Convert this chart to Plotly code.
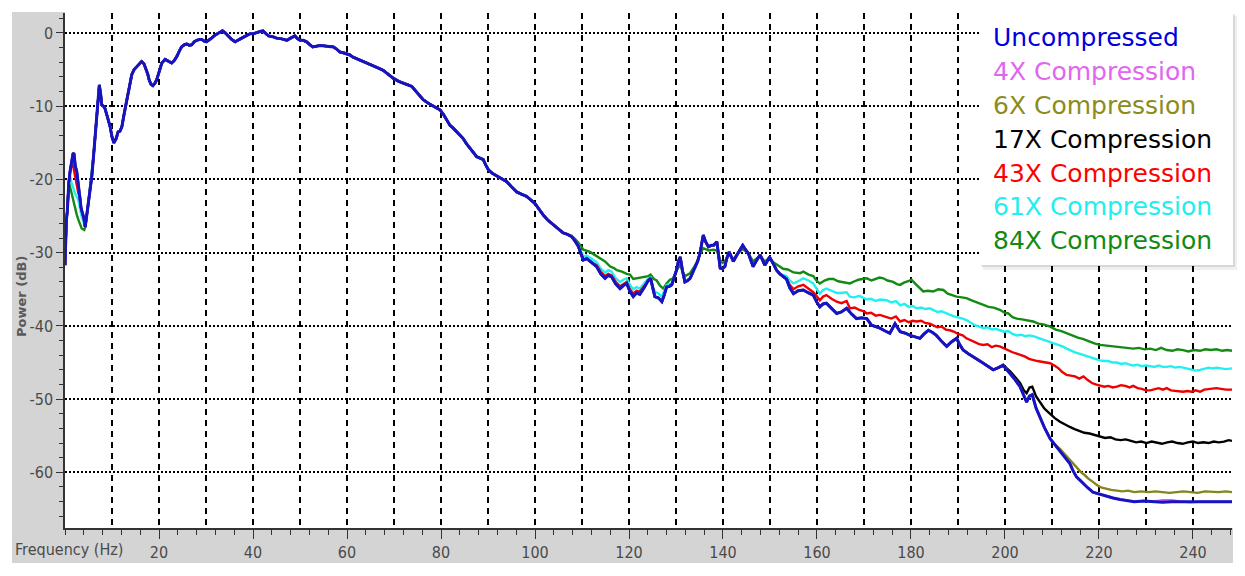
import plotly.graph_objects as go

# ---------------- data ----------------
FREQ = [0.0, 0.15, 0.3, 0.5, 0.8, 1.1, 1.4, 1.7, 1.9, 2.2, 2.5, 2.8, 3.1, 3.4, 3.7, 4.0, 4.3, 4.8, 5.3, 5.7,
        6.1, 6.4, 6.8, 7.1, 7.3, 7.6, 7.8, 8.2, 8.5, 9.0, 9.6, 10.0, 10.4, 10.9, 11.3, 11.7, 12.1, 12.6, 13.1, 13.6,
        14.2, 14.7, 15.3, 15.8, 16.3, 16.8, 17.2, 17.6, 17.9, 18.3, 18.7, 19.1, 19.5, 20.0, 20.6, 21.3, 22.0, 22.7, 23.2, 23.8,
        24.3, 24.8, 25.4, 25.9, 26.5, 27.0, 27.5, 28.0, 28.6, 29.1, 29.6, 30.1, 31.0, 31.9, 32.7, 33.5, 34.1, 34.8, 35.5, 36.2,
        36.9, 37.6, 38.5, 39.4, 40.1, 40.8, 41.5, 42.1, 42.7, 43.3, 44.2, 45.0, 46.1, 47.2, 48.0, 48.9, 49.5, 50.0, 50.7, 51.4,
        52.1, 52.7, 53.5, 54.3, 55.7, 57.1, 57.8, 58.5, 59.2, 59.9, 60.6, 61.3, 62.4, 63.5, 64.6, 65.6, 66.7, 67.7, 68.8, 69.9,
        71.0, 72.0, 73.0, 73.8, 74.8, 75.5, 76.2, 77.3, 78.4, 79.1, 79.8, 80.5, 81.2, 81.9, 82.6, 83.6, 84.7, 85.4, 86.2, 86.9,
        87.6, 88.3, 89.0, 89.5, 90.1, 91.0, 91.8, 92.9, 94.0, 95.0, 96.1, 97.1, 98.2, 99.1, 100.0, 100.9, 101.8, 102.8, 103.9, 105.0,
        106.0, 106.9, 107.8, 108.5, 109.2, 109.8, 110.3, 111.0, 111.7, 112.4, 113.1, 114.0, 114.9, 115.6, 116.3, 117.2, 118.1, 118.8, 119.5, 120.2,
        120.9, 121.6, 122.3, 123.2, 124.1, 124.6, 125.0, 125.5, 126.3, 127.0, 127.5, 128.0, 128.6, 129.1, 129.6, 130.1, 130.5, 130.9, 131.4, 131.9,
        132.5, 133.0, 133.5, 134.0, 134.6, 135.1, 135.5, 135.8, 136.3, 136.9, 137.5, 138.0, 138.7, 139.1, 139.4, 139.9, 140.4, 140.8, 141.3, 141.8,
        142.2, 142.8, 143.3, 143.8, 144.2, 144.8, 145.4, 145.9, 146.4, 147.2, 147.9, 148.4, 148.9, 149.4, 149.9, 150.7, 151.4, 152.1, 152.8, 153.5,
        154.2, 155.0, 156.0, 157.1, 158.2, 159.2, 160.0, 160.6, 161.3, 162.0, 163.1, 164.2, 165.2, 166.3, 167.4, 168.4, 169.5, 170.6, 171.6, 172.5,
        173.4, 174.5, 175.5, 176.6, 177.7, 178.8, 179.8, 180.9, 181.9, 182.8, 183.7, 184.6, 185.4, 186.5, 187.6, 188.6, 189.7, 190.4, 191.1, 192.2,
        193.3, 194.4, 195.4, 196.5, 197.5, 198.6, 199.6, 200.4, 201.1, 202.2, 203.2, 204.0, 204.6, 205.2, 205.8, 206.6, 207.4, 208.4, 209.6, 210.6,
        211.7, 212.8, 213.8, 214.5, 215.2, 216.0, 216.6, 217.6, 218.7, 220.2, 221.6, 223.0, 224.5, 226.0, 227.5, 229.5, 231.5, 233.5, 235.5, 237.5,
        239.5, 241.5, 243.5, 245.5, 247.0, 248.3]

UNCOMPRESSED = [-31.7, -28.0, -25.5, -24.3, -20.5, -18.8, -17.6, -16.5, -16.4, -18.2, -18.9, -20.6, -21.8, -23.8, -24.6, -25.2, -26.5, -24.2, -21.5, -19.6,
        -16.6, -14.2, -10.5, -7.6, -7.1, -8.4, -9.8, -10.0, -10.3, -11.4, -12.8, -14.2, -15.0, -14.4, -13.5, -13.4, -12.8, -11.0, -9.2, -7.4,
        -5.7, -5.0, -4.6, -4.2, -3.9, -4.2, -4.8, -5.6, -6.4, -7.0, -7.2, -6.9, -6.4, -5.2, -4.1, -3.6, -3.9, -4.1, -3.8, -3.2,
        -2.5, -1.9, -1.6, -1.5, -1.7, -1.6, -1.2, -1.0, -0.9, -0.9, -1.1, -1.2, -0.8, -0.3, 0.0, 0.3, 0.0, -0.5, -0.9, -1.2,
        -1.0, -0.7, -0.4, -0.1, -0.1, 0.0, 0.2, 0.3, 0.0, -0.4, -0.5, -0.7, -0.8, -1.0, -0.7, -0.4, -0.8, -1.0, -1.0, -1.2,
        -1.6, -1.9, -1.8, -1.7, -1.8, -1.9, -2.2, -2.6, -2.7, -2.8, -3.0, -3.3, -3.6, -3.9, -4.2, -4.4, -4.8, -5.1, -5.7, -6.2,
        -6.6, -6.9, -7.1, -7.3, -8.0, -8.6, -9.1, -9.6, -10.0, -10.3, -10.5, -11.1, -11.9, -12.6, -13.0, -13.6, -14.4, -15.1, -15.8, -16.4,
        -16.9, -17.1, -17.3, -18.0, -18.7, -19.2, -19.5, -19.9, -20.3, -21.0, -21.7, -22.0, -22.3, -22.8, -23.3, -24.1, -24.9, -25.6, -26.2, -26.8,
        -27.3, -27.5, -27.8, -28.4, -29.1, -30.2, -31.0, -30.8, -31.2, -31.5, -31.9, -32.9, -33.5, -33.1, -33.3, -34.3, -34.9, -34.5, -34.2, -35.3,
        -36.0, -35.5, -35.7, -34.8, -33.8, -33.5, -34.8, -36.0, -36.2, -36.7, -35.8, -34.7, -34.6, -34.4, -33.4, -32.4, -31.2, -30.6, -32.5, -34.0,
        -33.8, -33.5, -32.8, -32.1, -31.2, -30.1, -28.6, -27.6, -28.5, -29.2, -29.0, -29.0, -28.5, -30.5, -32.1, -32.2, -31.9, -30.8, -29.9, -30.6,
        -31.2, -30.5, -29.9, -29.4, -29.0, -29.6, -30.1, -31.0, -31.9, -31.0, -30.3, -31.0, -31.7, -31.2, -30.6, -31.5, -32.4, -32.9, -33.3, -33.6,
        -34.8, -35.6, -35.2, -35.1, -35.5, -35.8, -36.8, -37.4, -37.0, -36.9, -37.6, -38.3, -38.1, -37.6, -38.4, -39.0, -38.9, -39.0, -39.9, -40.1,
        -40.3, -40.7, -41.0, -39.7, -40.8, -41.0, -41.3, -41.5, -41.7, -41.1, -40.6, -40.9, -41.3, -42.1, -42.8, -42.2, -41.7, -42.6, -43.3, -43.8,
        -44.2, -44.7, -45.1, -45.6, -46.0, -45.7, -45.4, -46.0, -46.5, -47.4, -48.3, -49.5, -50.4, -49.6, -49.4, -51.2, -52.4, -53.9, -55.4, -56.2,
        -57.0, -57.9, -58.8, -59.8, -60.6, -61.1, -61.5, -62.1, -62.7, -63.0, -63.3, -63.5, -63.7, -63.8, -64.0, -63.9, -64.0, -64.1, -64.0, -64.0,
        -64.1, -64.0, -64.0, -64.1, -64.0, -64.0]

# 4X: same as uncompressed except a short stretch near the end
C4_TAIL_F = [231.5, 233.5, 235.5, 237.5]
C4_TAIL_DB = [-64.0, -63.8, -63.8, -64.0]

# 6X
C6_TAIL_F = [211.7, 212.8, 213.8, 214.8, 215.5, 216.2, 217.0, 217.8, 218.7, 219.7, 220.6, 221.6, 222.6, 223.8, 225.0, 226.2,
             227.5, 229.0, 230.5, 232.0, 233.5, 235.0, 236.5, 238.0, 239.5, 241.0, 242.5, 244.0, 245.5, 247.0, 248.3]
C6_TAIL_DB = [-56.8, -57.6, -58.3, -58.9, -59.5, -60.0, -60.4, -60.9, -61.3, -61.8, -62.1, -62.3, -62.4, -62.5, -62.6, -62.5,
              -62.7, -62.6, -62.7, -62.6, -62.7, -62.8, -62.7, -62.6, -62.7, -62.8, -62.6, -62.7, -62.7, -62.6, -62.7]

# 17X
C17_TAIL_F = [199.6, 200.4, 201.1, 202.2, 203.2, 204.0, 204.6, 205.2, 205.8, 206.6, 207.4, 208.4, 209.6, 210.6, 211.7, 212.8,
              213.8, 214.8, 215.9, 216.9, 218.0, 219.0, 220.2, 221.3, 222.4, 223.5, 224.6, 225.7, 226.8, 227.9, 229.0, 230.1,
              231.2, 232.3, 233.4, 234.5, 235.6, 236.7, 237.8, 238.9, 240.0, 241.1, 242.2, 243.3, 244.4, 245.5, 246.6, 247.6, 248.3]
C17_TAIL_DB = [-45.3, -45.8, -46.2, -47.0, -47.8, -48.8, -49.2, -48.4, -48.3, -49.6, -50.3, -51.3, -52.0, -52.6, -53.1, -53.5,
               -53.8, -54.1, -54.4, -54.6, -54.7, -54.9, -55.1, -55.3, -55.2, -55.5, -55.6, -55.5, -55.7, -55.9, -55.8, -56.0,
               -55.8, -55.9, -56.1, -55.9, -55.8, -56.0, -56.1, -55.9, -55.8, -56.0, -55.9, -56.0, -55.8, -55.9, -55.8, -55.6, -55.7]

# 43X
C43_LOW_F = [1.4, 1.63, 2.13, 2.5, 2.84, 3.19]
C43_LOW_DB = [-17.9, -17.8, -19.6, -20.6, -21.9, -22.3]
C43_MID_F = [113.1, 114.0, 114.9, 115.6, 116.3, 117.2, 118.1, 118.8, 119.5, 120.2, 120.9, 121.6, 122.3, 123.2]
C43_MID_DB = [-31.7, -32.6, -33.2, -32.9, -33.1, -34.0, -34.6, -34.3, -34.0, -35.0, -35.6, -35.2, -35.3, -34.6]
C43_TAIL_F = [152.8, 153.5, 154.2, 155.0, 156.0, 157.1, 158.2, 159.2, 160.0, 160.6, 161.3, 162.0, 163.1, 164.2, 165.2, 166.3,
              167.0, 168.0, 169.0, 170.0, 170.6, 171.5, 172.5, 173.4, 174.8, 175.8, 176.8, 177.7, 178.6, 179.5, 180.4, 181.2,
              182.2, 183.0, 184.0, 184.7, 185.6, 186.5, 187.4, 188.3, 189.2, 190.0, 191.0, 191.8, 192.7, 193.6, 194.5, 195.4,
              196.3, 197.2, 198.0, 198.9, 199.8, 200.7, 201.6, 202.5, 203.4, 204.3, 205.1, 206.0, 206.9, 207.8, 208.7, 209.6,
              210.5, 211.4, 212.2, 213.1, 214.0, 214.9, 215.8, 216.7, 217.6, 218.5, 219.3, 220.2, 221.1, 222.0, 222.9, 223.8,
              224.7, 225.6, 226.5, 227.3, 228.2, 229.1, 230.0, 230.9, 231.8, 232.7, 233.6, 234.4, 235.3, 236.2, 237.1, 237.9,
              238.8, 239.7, 240.6, 241.5, 242.4, 243.3, 244.2, 245.0, 246.0, 247.0, 248.3]
C43_TAIL_DB = [-33.3, -33.5, -34.4, -35.0, -34.6, -34.4, -34.9, -35.4, -36.0, -36.5, -36.0, -35.8, -36.3, -36.7, -36.9, -36.6,
               -37.6, -37.5, -37.8, -38.0, -38.3, -38.2, -38.6, -38.5, -38.8, -39.0, -38.7, -39.4, -39.2, -39.5, -39.3, -39.4,
               -39.3, -39.6, -39.7, -39.9, -40.2, -40.1, -40.5, -40.6, -40.8, -41.1, -41.3, -41.7, -42.0, -42.3, -42.5, -42.6,
               -42.5, -42.9, -42.7, -42.8, -43.1, -43.3, -43.6, -43.8, -44.0, -44.2, -44.5, -44.7, -44.8, -44.9, -45.0, -45.1,
               -45.4, -45.8, -46.3, -46.7, -46.8, -46.9, -47.2, -46.9, -47.4, -47.8, -48.0, -48.1, -48.3, -48.2, -48.4, -48.3,
               -48.1, -48.2, -48.4, -48.2, -48.5, -48.6, -48.8, -48.8, -48.6, -48.5, -48.7, -48.5, -48.8, -48.9, -49.0, -49.0,
               -48.9, -49.0, -48.8, -49.0, -48.7, -48.6, -48.5, -48.5, -48.6, -48.7, -48.7]

# 61X
C61_LOW_F = [1.1, 1.42, 2.13, 2.84, 3.55, 4.1]
C61_LOW_DB = [-19.6, -20.5, -21.9, -22.8, -25.1, -26.0]
C61_MID_F = [109.2, 109.8, 110.3, 111.0, 111.7, 112.4, 113.1, 114.0, 114.9, 115.6, 116.3, 117.2, 118.1, 118.8, 119.5, 120.2,
             120.9, 121.6, 122.3, 123.2, 124.1, 124.6, 125.0, 125.5, 126.3, 127.0, 127.5, 128.0, 128.6, 129.1, 129.6, 130.1]
C61_MID_DB = [-29.0, -29.9, -30.5, -30.4, -30.7, -31.0, -31.3, -32.2, -32.7, -32.4, -32.6, -33.5, -34.0, -33.7, -33.5, -34.4,
              -35.0, -34.7, -34.9, -34.2, -33.5, -33.4, -34.5, -35.3, -35.6, -36.0, -35.3, -34.4, -34.3, -34.2, -33.3, -32.4]
C61_TAIL_F = [152.8, 153.5, 154.2, 155.0, 156.0, 157.1, 158.2, 159.2, 160.0, 160.6, 161.3, 162.0, 163.1, 164.2, 165.2, 166.3,
              167.0, 168.0, 169.0, 170.0, 170.6, 171.5, 172.5, 173.4, 174.8, 175.8, 176.8, 177.7, 178.6, 179.5, 180.4, 181.2,
              182.2, 183.0, 184.0, 184.7, 185.6, 186.5, 187.4, 188.3, 189.2, 190.0, 191.0, 191.8, 192.7, 193.6, 194.5, 195.4,
              196.3, 197.2, 198.0, 198.9, 199.8, 200.7, 201.6, 202.5, 203.4, 204.3, 205.1, 206.0, 206.9, 207.8, 208.7, 209.6,
              210.5, 211.4, 212.2, 213.1, 214.0, 214.9, 215.8, 216.7, 217.6, 218.5, 219.3, 220.2, 221.1, 222.0, 222.9, 223.8,
              224.7, 225.6, 226.5, 227.3, 228.2, 229.1, 230.0, 230.9, 231.8, 232.7, 233.6, 234.4, 235.3, 236.2, 237.1, 237.9,
              238.8, 239.7, 240.6, 241.5, 242.4, 243.3, 244.2, 245.0, 246.0, 247.0, 248.3]
C61_TAIL_DB = [-33.0, -33.2, -33.8, -34.2, -33.9, -33.5, -33.8, -34.2, -35.0, -35.6, -35.1, -34.9, -35.2, -35.5, -35.5, -35.4,
               -36.0, -36.1, -35.9, -36.2, -36.4, -36.3, -36.6, -36.4, -36.5, -36.8, -36.6, -37.2, -37.0, -37.4, -37.3, -37.6,
               -37.5, -37.7, -37.6, -37.8, -38.1, -38.0, -38.3, -38.5, -38.7, -38.8, -39.0, -39.2, -39.6, -39.9, -40.1, -40.3,
               -40.2, -40.5, -40.4, -40.6, -40.8, -40.7, -41.1, -41.3, -41.2, -41.4, -41.3, -41.4, -41.6, -41.9, -42.0, -42.2,
               -42.5, -42.7, -42.8, -43.1, -43.4, -43.6, -43.8, -44.0, -44.2, -44.4, -44.5, -44.7, -44.8, -44.8, -45.0, -45.0,
               -45.2, -45.1, -45.3, -45.4, -45.3, -45.5, -45.4, -45.5, -45.6, -45.4, -45.6, -45.6, -45.5, -45.7, -45.6, -45.7,
               -45.8, -46.0, -46.1, -46.0, -45.8, -45.7, -45.8, -45.7, -45.8, -45.9, -45.8]

# 84X
C84_LOW_F = [1.0, 1.42, 1.8, 2.13, 2.5, 2.84, 3.2, 3.55, 4.1]
C84_LOW_DB = [-20.8, -21.9, -23.3, -23.9, -24.8, -25.5, -26.2, -26.7, -26.9]
C84_TAIL_F = [107.8, 108.5, 109.2, 110.3, 111.0, 111.7, 112.7, 113.8, 114.9, 116.0, 116.8, 117.4, 118.5, 119.5, 120.2, 120.9,
              121.6, 122.3, 123.2, 124.1, 124.6, 125.3, 125.9, 126.6, 127.3, 128.0, 128.7, 129.4, 130.1, 130.9, 131.4, 131.9,
              132.5, 133.0, 134.0, 134.6, 135.1, 135.8, 136.3, 136.9, 138.0, 138.7, 139.4, 139.9, 140.4, 141.3, 142.2, 143.3,
              144.2, 145.4, 146.4, 147.2, 147.9, 148.9, 149.9, 150.7, 151.4, 152.1, 152.8, 153.8, 155.0, 156.4, 157.1, 158.2,
              159.2, 160.0, 160.6, 161.6, 162.5, 163.5, 164.5, 165.3, 166.3, 167.0, 168.0, 168.8, 169.7, 170.6, 171.6, 172.5,
              173.3, 174.1, 175.0, 176.2, 177.0, 177.7, 178.5, 179.4, 180.1, 181.0, 181.8, 182.6, 183.6, 184.7, 185.8, 186.9,
              187.8, 188.8, 189.7, 190.8, 191.8, 192.9, 194.0, 195.4, 196.5, 197.6, 198.9, 199.9, 200.7, 201.6, 202.5, 203.6,
              204.8, 206.0, 207.1, 208.2, 209.6, 210.8, 212.0, 213.1, 214.3, 215.5, 216.7, 217.8, 219.0, 220.2, 221.4, 222.6,
              223.8, 225.0, 226.1, 227.3, 228.5, 229.7, 230.9, 232.1, 233.2, 234.4, 235.6, 236.7, 237.9, 239.0, 240.2, 241.5,
              242.6, 243.8, 245.0, 246.2, 247.3, 248.3]
C84_TAIL_DB = [-27.7, -28.1, -28.6, -29.6, -29.7, -29.9, -30.3, -30.8, -31.2, -31.9, -32.1, -32.4, -32.6, -32.9, -33.0, -33.6,
               -33.5, -33.4, -33.3, -33.2, -33.0, -33.6, -33.8, -34.5, -34.9, -34.2, -33.7, -33.5, -32.5, -31.6, -32.6, -33.2,
               -33.0, -32.8, -31.8, -31.1, -30.2, -29.4, -29.5, -29.7, -29.6, -29.7, -31.0, -31.4, -31.2, -30.2, -30.9, -30.0,
               -29.5, -30.1, -31.2, -30.7, -30.4, -31.2, -30.7, -31.3, -31.6, -31.9, -32.2, -32.3, -32.7, -32.8, -32.6, -33.0,
               -33.2, -33.9, -34.2, -33.8, -33.6, -33.6, -33.9, -34.0, -34.1, -34.2, -33.9, -33.7, -33.6, -33.5, -33.8, -33.6,
               -33.4, -33.5, -33.8, -34.0, -34.3, -34.4, -34.1, -33.9, -33.7, -34.3, -34.8, -35.3, -35.2, -35.3, -35.0, -35.1,
               -35.6, -35.8, -36.0, -36.1, -36.2, -36.5, -36.8, -37.2, -37.4, -37.5, -37.8, -38.2, -38.3, -38.8, -39.0, -39.1,
               -39.3, -39.4, -39.7, -39.8, -40.1, -40.5, -40.7, -41.0, -41.3, -41.6, -41.8, -42.1, -42.4, -42.6, -42.7, -42.8,
               -42.9, -43.0, -43.0, -43.1, -43.0, -43.2, -43.1, -43.3, -43.0, -43.3, -43.4, -43.2, -43.3, -43.5, -43.3, -43.4,
               -43.2, -43.3, -43.2, -43.4, -43.3, -43.4]

X_TICKS = [20, 40, 60, 80, 100, 120, 140, 160, 180, 200, 220, 240]
X_GRID_ODD = [10, 30, 50, 70, 90, 110, 130, 150, 170, 190, 210, 230]
Y_TICKS = [0, -10, -20, -30, -40, -50, -60]

SERIES_NAMES = ["Uncompressed", "4X Compression", "6X Compression", "17X Compression",
                "43X Compression", "61X Compression", "84X Compression"]
LINE_COLORS = ["#1414c4", "#e060ea", "#85851a", "#000000", "#f00000", "#22f0f0", "#138a13"]
TEXT_COLORS = ["#0000dd", "#e066f0", "#8c8c1c", "#000000", "#ff0000", "#22eeee", "#128a12"]


def compose(base_x, base_y, segments):
    """Series = shared uncompressed points, with its own read segments replacing
    the stretches where it visibly departs from the uncompressed curve."""
    pts = list(zip(base_x, base_y))
    for sx, sy in segments:
        lo, hi = sx[0], sx[-1]
        pts = [p for p in pts if not (lo <= p[0] <= hi)] + list(zip(sx, sy))
    pts.sort(key=lambda p: p[0])
    return [p[0] for p in pts], [p[1] for p in pts]


series = {
    "Uncompressed": (FREQ, UNCOMPRESSED),
    "4X Compression": compose(FREQ, UNCOMPRESSED, [(C4_TAIL_F, C4_TAIL_DB)]),
    "6X Compression": compose(FREQ, UNCOMPRESSED, [(C6_TAIL_F, C6_TAIL_DB)]),
    "17X Compression": compose(FREQ, UNCOMPRESSED, [(C17_TAIL_F, C17_TAIL_DB)]),
    "43X Compression": compose(FREQ, UNCOMPRESSED, [(C43_LOW_F, C43_LOW_DB), (C43_MID_F, C43_MID_DB),
                                                     (C43_TAIL_F, C43_TAIL_DB)]),
    "61X Compression": compose(FREQ, UNCOMPRESSED, [(C61_LOW_F, C61_LOW_DB), (C61_MID_F, C61_MID_DB),
                                                     (C61_TAIL_F, C61_TAIL_DB)]),
    "84X Compression": compose(FREQ, UNCOMPRESSED, [(C84_LOW_F, C84_LOW_DB), (C84_TAIL_F, C84_TAIL_DB)]),
}

# ---------------- figure ----------------
# The page body has an 8 px margin, so the figure is laid out 8 px in from the
# window corner; page-pixel positions below are converted accordingly.
OFF = 8
W, H = 1229, 560
PLOT_L, PLOT_R, PLOT_T, PLOT_B = 65, 1232, 13, 528          # page pixels
L, R, T, B = PLOT_L - OFF, W - (PLOT_R - OFF), PLOT_T - OFF, H - (PLOT_B - OFF)
PW, PH = PLOT_R - PLOT_L, PLOT_B - PLOT_T
X_RANGE = [0, 248.3]
Y_RANGE = [-67.6, 2.73]


def px(x):
    return (x - PLOT_L) / PW


def py(y):
    return (PLOT_B - y) / PH


fig = go.Figure()

# draw from 84X up to Uncompressed so the blue curve is on top
for i in range(len(SERIES_NAMES) - 1, -1, -1):
    name = SERIES_NAMES[i]
    xs, ys = series[name]
    fig.add_trace(go.Scatter(
        x=xs, y=ys, mode="lines", name=name, showlegend=False,
        line=dict(color=LINE_COLORS[i], width=3.0 if i == 0 else 2.4),
        hoverinfo="skip"))

# carrier for the extra (odd-10 Hz) vertical grid lines
fig.add_trace(go.Scatter(x=[], y=[], xaxis="x2", yaxis="y", showlegend=False, hoverinfo="skip"))

TICK_FONT = dict(family="DejaVu Sans Condensed, Liberation Sans Narrow, sans-serif",
                 size=16, color="#4a4a4a")

fig.update_layout(
    width=W, height=H,
    margin=dict(l=L, r=R, t=T, b=B, pad=0),
    paper_bgcolor="white", plot_bgcolor="white",
    showlegend=False,
    xaxis=dict(range=X_RANGE, tickmode="array", tickvals=X_TICKS, ticktext=[str(v) for v in X_TICKS],
               ticks="outside", ticklen=9,
               tickwidth=1.3, tickcolor="#333", showline=True, linecolor="#333", linewidth=1.5,
               showgrid=True, gridcolor="black", gridwidth=1.5, griddash="6px,5px",
               zeroline=False, tickfont=TICK_FONT,
               minor=dict(dtick=4, tick0=0, ticks="outside", ticklen=5, tickcolor="#333", showgrid=False)),
    xaxis2=dict(range=X_RANGE, overlaying="x", tickmode="array", tickvals=X_GRID_ODD,
                showticklabels=False, ticks="", showline=False, zeroline=False,
                showgrid=True, gridcolor="black", gridwidth=1.5, griddash="6px,5px"),
    yaxis=dict(range=Y_RANGE, tickmode="array", tickvals=Y_TICKS, ticktext=[str(v) for v in Y_TICKS],
               ticks="outside", ticklen=7,
               tickwidth=1.3, tickcolor="#333", showline=True, linecolor="#333", linewidth=1.5,
               showgrid=True, gridcolor="black", gridwidth=1.8, griddash="2px,2px",
               zeroline=False, tickfont=TICK_FONT,
               minor=dict(dtick=2, tick0=0, ticks="outside", ticklen=4, tickcolor="#333", showgrid=False)),
)

GRAY = "#d4d4d4"
shapes = [
    # grey frame left of and below the plot area
    dict(type="rect", xref="paper", yref="paper", x0=px(12), x1=px(PLOT_L), y0=py(563), y1=py(12),
         fillcolor=GRAY, line=dict(width=0), layer="below"),
    dict(type="rect", xref="paper", yref="paper", x0=px(12), x1=px(1233), y0=py(563), y1=py(PLOT_B),
         fillcolor=GRAY, line=dict(width=0), layer="below"),
    # legend box shadow and box
    dict(type="rect", xref="paper", yref="paper", x0=px(983), x1=px(1237), y0=py(270), y1=py(16),
         fillcolor="rgba(0,0,0,0.06)", line=dict(width=0), layer="above"),
    dict(type="rect", xref="paper", yref="paper", x0=px(981), x1=px(1235), y0=py(267), y1=py(14),
         fillcolor="rgba(0,0,0,0.10)", line=dict(width=0), layer="above"),
    dict(type="rect", xref="paper", yref="paper", x0=px(980), x1=px(1233), y0=py(265), y1=py(12),
         fillcolor="white", line=dict(width=0), layer="above"),
]
fig.update_layout(shapes=shapes)

annotations = []
for i, name in enumerate(SERIES_NAMES):
    annotations.append(dict(
        xref="paper", yref="paper", x=px(991), y=py(37 + 34 * i), xanchor="left", yanchor="middle",
        text=name, showarrow=False,
        font=dict(family="DejaVu Sans, Liberation Sans, sans-serif", size=25, color=TEXT_COLORS[i])))

annotations.append(dict(
    xref="paper", yref="paper", x=px(13), y=py(549), xanchor="left", yanchor="middle",
    text="Frequency (Hz)", showarrow=False, font=TICK_FONT))
annotations.append(dict(
    xref="paper", yref="paper", x=px(21), y=py(297), xanchor="center", yanchor="middle",
    text="<b>Power (dB)</b>", textangle=-90, showarrow=False,
    font=dict(family="DejaVu Sans, sans-serif", size=13, color="#5a5a5a")))
fig.update_layout(annotations=annotations)

fig.write_html("out.html")
